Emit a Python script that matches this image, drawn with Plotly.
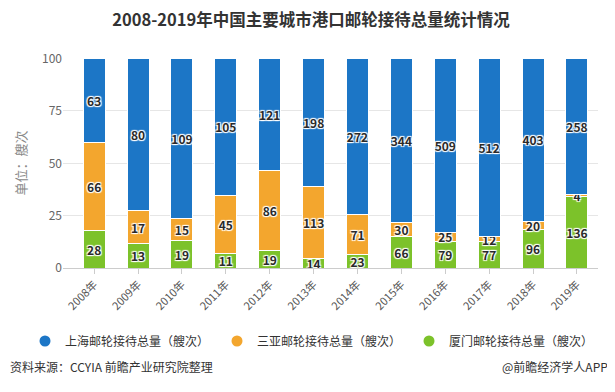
import plotly.graph_objects as go

years = ["2008年", "2009年", "2010年", "2011年", "2012年", "2013年",
         "2014年", "2015年", "2016年", "2017年", "2018年", "2019年"]
shanghai = [63, 80, 109, 105, 121, 198, 272, 344, 509, 512, 403, 258]
sanya = [66, 17, 15, 45, 86, 113, 71, 30, 25, 12, 20, 4]
xiamen = [28, 13, 19, 11, 19, 14, 23, 66, 79, 77, 96, 136]

series = [
    ("厦门邮轮接待总量（艘次）", xiamen, "#7cc22a"),
    ("三亚邮轮接待总量（艘次）", sanya, "#f3a62e"),
    ("上海邮轮接待总量（艘次）", shanghai, "#1c76c6"),
]

FONT = "Noto Sans CJK SC, Noto Sans, sans-serif"
shadow = "1px 1px 1px #fff, -1px -1px 1px #fff, 1px -1px 1px #fff, -1px 1px 1px #fff"

# page body has an 8px default margin, so the figure is 8px smaller than the window
W, H = 607, 384
PL, PR, PT, PB = 55, 590, 50, 260  # plot area in figure pixels

fig = go.Figure()
for name, vals, col in series:
    fig.add_trace(go.Bar(
        x=years, y=vals, name=name, text=vals, texttemplate="%{text}",
        textposition="inside", insidetextanchor="middle", textangle=0,
        constraintext="none",
        textfont=dict(family=FONT, size=12, color="#2a2a2a", weight="bold", shadow=shadow),
        marker=dict(color=col, line=dict(color="#ffffff", width=1)),
        showlegend=False, hoverinfo="skip",
    ))

# legend entries (circle markers)
for name, vals, col in reversed(series):
    fig.add_trace(go.Scatter(
        x=[None], y=[None], mode="markers", name=name,
        marker=dict(color=col, size=11, symbol="circle"),
    ))

pw, ph = PR - PL, PB - PT

fig.update_layout(
    width=W, height=H,
    barmode="stack", barnorm="percent", bargap=0.5,
    paper_bgcolor="#ffffff", plot_bgcolor="#ffffff",
    margin=dict(l=PL, r=W - PR, t=PT, b=H - PB),
    font=dict(family=FONT, color="#333333"),
    title=dict(text="<b>2008-2019年中国主要城市港口邮轮接待总量统计情况</b>",
               x=(311 - 8) / W, xanchor="center", xref="container",
               y=1 - 12 / H, yanchor="middle", yref="container",
               font=dict(size=16.5, color="#333333", family=FONT)),
    legend=dict(orientation="h", traceorder="normal",
                x=(17 - PL) / pw, xanchor="left", xref="paper",
                y=(PB - 333) / ph, yanchor="middle", yref="paper",
                entrywidth=147, entrywidthmode="pixels",
                font=dict(size=12, color="#333333", family=FONT),
                itemclick=False, bgcolor="rgba(0,0,0,0)"),
    showlegend=True,
)

fig.update_xaxes(
    type="category", range=[-0.71, 11.48],
    showline=True, linecolor="#cccccc", linewidth=1,
    ticks="outside", ticklen=5, tickcolor="#cccccc",
    tickangle=-45, tickfont=dict(size=11, color="#555555", family=FONT),
    showgrid=False,
)
fig.update_yaxes(
    range=[0, 100.3], tickvals=[0, 25, 50, 75, 100],
    showgrid=True, gridcolor="#e6e6e6", gridwidth=1,
    zeroline=False, showline=False,
    tickfont=dict(size=12, color="#666666", family=FONT),
    title=dict(text="单位：艘次", standoff=12,
               font=dict(size=13, color="#888888", family=FONT)),
)

fig.add_annotation(text="资料来源：CCYIA 前瞻产业研究院整理",
                   xref="paper", yref="paper", x=(0 - PL) / pw, y=(PB - 358) / ph,
                   xanchor="left", yanchor="middle", showarrow=False,
                   font=dict(size=12, color="#333333", family=FONT))
fig.add_annotation(text="@前瞻经济学人APP",
                   xref="paper", yref="paper", x=(602 - PL) / pw, y=(PB - 358) / ph,
                   xanchor="right", yanchor="middle", showarrow=False,
                   font=dict(size=12, color="#333333", family=FONT))

fig.write_html("out.html")
